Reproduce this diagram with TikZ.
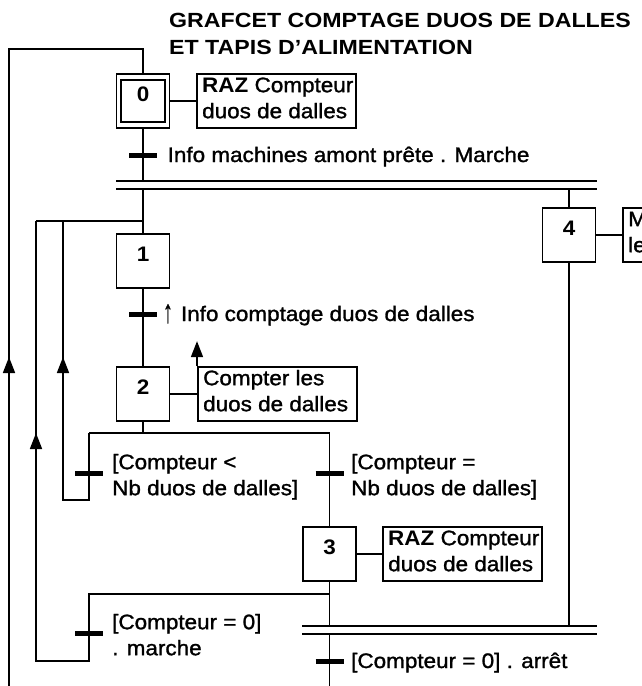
\documentclass[tikz,border=0pt]{standalone}
\usepackage{fontspec}
\usepackage{graphicx}
\setmainfont{Liberation Sans}[FakeStretch=1.07, UprightFeatures={FakeBold=1.3}]
\newfontfamily\titlefont{Liberation Sans}[FakeStretch=1.13]
\usetikzlibrary{arrows.meta}
\begin{document}
\begin{tikzpicture}[x=1pt,y=-1pt,
  ln/.style={line width=1.7pt},
  stepbox/.style={draw, line width=1.7pt, minimum width=53pt, minimum height=54pt, inner sep=0pt},
  actbox/.style={draw, line width=1.7pt, minimum width=159pt, minimum height=54pt, inner sep=0pt, anchor=west},
  acttext/.style={anchor=north west, inner sep=0pt, align=left, font=\fontsize{21}{26}\selectfont},
  trone/.style={anchor=base west, inner sep=0pt, font=\fontsize{21}{26}\selectfont},
  trtwo/.style={anchor=north west, inner sep=0pt, align=left, font=\fontsize{21}{26}\selectfont},
  trbar/.style={line width=5pt},
  num/.style={inner sep=0pt, font=\bfseries\fontsize{21}{26}\selectfont},
  titletext/.style={anchor=base west, inner sep=0pt, font=\titlefont\bfseries\fontsize{20.5}{27}\selectfont},
  arr/.style={line width=1.7pt, -{Triangle[width=12pt,length=16pt]}},
]
\useasboundingbox (0,0) rectangle (641,686);

% title
\node[titletext] (title1) at (169,27) {GRAFCET COMPTAGE DUOS DE DALLES};
\node[titletext] (title2) at (169,54) {ET TAPIS D’ALIMENTATION};

% steps
\node[stepbox] (s0) at (143,101) {};
\node[stepbox, minimum width=44pt, minimum height=42pt] (s0i) at (143,101) {};
\node[num] (n0) at (143,94) {0};
\node[stepbox] (s1) at (143,261) {};
\node[num] (n1) at (143,254) {1};
\node[stepbox] (s2) at (143,394) {};
\node[num] (n2) at (143,387) {2};
\node[stepbox] (s3) at (329.5,554) {};
\node[num] (n3) at (329.5,547) {3};
\node[stepbox] (s4) at (569,235) {};
\node[num] (n4) at (569,228) {4};

% actions
\node[actbox] (a0) at (196,101) {};
\node[acttext] (a0t) at (202,76) {\rule{0pt}{16pt}\textbf{RAZ} Compteur\\duos de dalles};
\node[actbox] (a2) at (197,394) {};
\node[acttext] (a2t) at (203,369) {\rule{0pt}{16pt}Compter les\\duos de dalles};
\node[actbox] (a3) at (382,554) {};
\node[acttext] (a3t) at (388,529) {\rule{0pt}{16pt}\textbf{RAZ} Compteur\\duos de dalles};
\node[actbox] (a4) at (622,235) {};
\node[acttext] (a4t) at (628,210) {\rule{0pt}{16pt}M\\le};

\draw[ln] (s0.east) -- (a0.west);
\draw[ln] (s2.east) -- (a2.west);
\draw[ln] (s3.east) -- (a3.west);
\draw[ln] (s4.east) -- (a4.west);
\draw[arr] (a2.north west) -- ++(0,-25);

% transitions
\coordinate (t0) at (143,155);
\coordinate (t1) at (143,314);
\coordinate (t2l) at (89,473);
\coordinate (t2r) at (329.5,473);
\coordinate (t3l) at (89,633);
\coordinate (t3r) at (329.5,661);

% main links
\coordinate (bL) at (9,686);
\coordinate (c49L) at (9,49);
\coordinate (c49R) at (143,49);
\draw[ln] (bL) -- (c49L) -- (c49R) -- (s0.north);

\coordinate (dA1) at (116,181); \coordinate (dA2) at (597,181);
\coordinate (dB1) at (116,189); \coordinate (dB2) at (597,189);
\draw[ln] (dA1) -- (dA2);
\draw[ln] (dB1) -- (dB2);
\draw[ln] (s0.south) -- (s0.south |- dA1);
\draw[ln] (s1.north |- dB1) -- (s1.north);
\draw[ln] (s4.north |- dB1) -- (s4.north);
\draw[ln] (s1.south) -- (s2.north);

\coordinate (o1C) at (143,433);
\coordinate (o1L) at (89,433);
\coordinate (o1R) at (329.5,433);
\draw[ln] (s2.south) -- (o1C);
\draw[ln] (o1L) -- (o1R) -- (s3.north);

\coordinate (r1) at (89,500);
\coordinate (r1b) at (63,500);
\coordinate (j1) at (63,221);
\coordinate (j0) at (36,221);
\coordinate (j2) at (143,221);
\draw[ln] (o1L) -- (r1) -- (r1b) -- (j1);
\draw[ln] (j0) -- (j2);

\coordinate (o2L) at (89,594);
\coordinate (o2R) at (329.5,594);
\coordinate (r2) at (89,661);
\coordinate (r2b) at (36,661);
\draw[ln] (o2R) -- (o2L) -- (r2) -- (r2b) -- (j0);

\coordinate (dC1) at (302,626); \coordinate (dC2) at (597,626);
\coordinate (dD1) at (302,634); \coordinate (dD2) at (597,634);
\draw[ln] (dC1) -- (dC2);
\draw[ln] (dD1) -- (dD2);
\draw[ln] (s3.south) -- (s3.south |- dC1);
\draw[ln] (s4.south) -- (s4.south |- dC1);
\coordinate (bR) at (329.5,686);
\draw[ln] (s3.south |- dD1) -- (bR);

% arrows on return lines
\draw[arr] (9,373) -- (9,357);
\draw[arr] (63,373) -- (63,357);
\draw[arr] (36,449) -- (36,433);

% transition bars
\foreach \t in {t0,t1,t2l,t2r,t3l,t3r}
  \draw[trbar] ([xshift=-14pt]\t) -- ([xshift=14pt]\t);

% transition receptivities
\node[trone] (l0) at (167.5,162) {Info machines amont prête . Marche};
\node[trone] (l1) at (163,321) {\raisebox{-1.5pt}{\scalebox{0.85}[1.55]{↑}}\hspace{2pt} Info comptage duos de dalles};
\node[trtwo] (l2l) at (112,453) {\rule{0pt}{16pt}[Compteur <\\Nb duos de dalles]};
\node[trtwo] (l2r) at (351,453) {\rule{0pt}{16pt}[Compteur =\\Nb duos de dalles]};
\node[trtwo] (l3l) at (112,613) {\rule{0pt}{16pt}[Compteur = 0]\\. marche};
\node[trone] (l3r) at (351,668) {[Compteur = 0] . arrêt};
\end{tikzpicture}
\end{document}
